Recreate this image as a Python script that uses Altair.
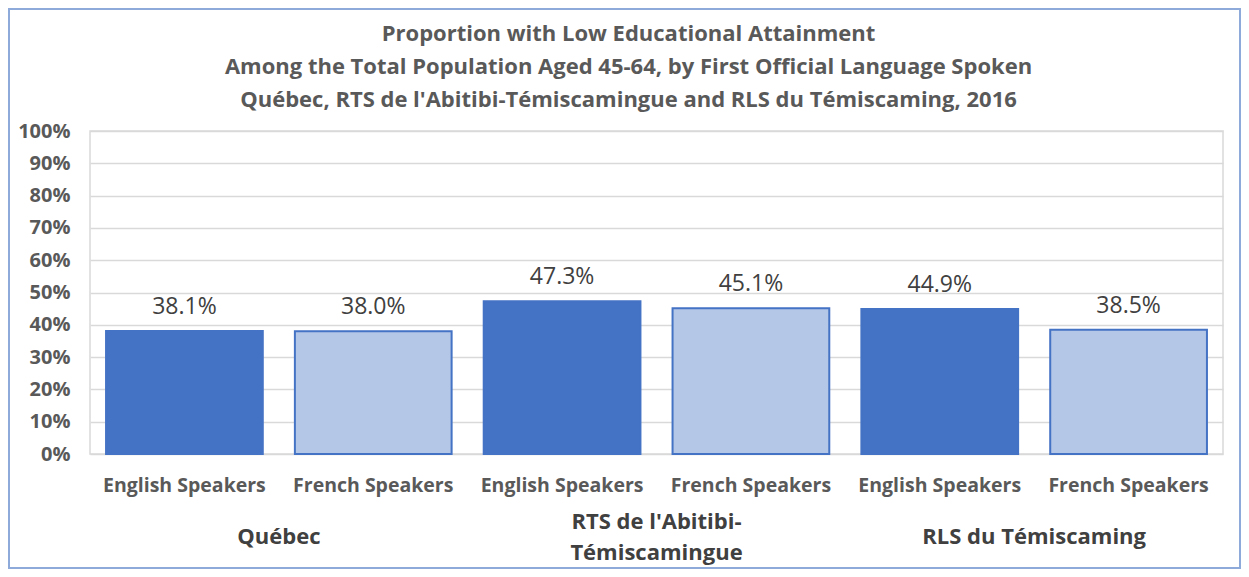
import altair as alt
import pandas as pd

# ---- data ----
regions = ["Québec", "Québec",
           "RTS de l'Abitibi-Témiscamingue", "RTS de l'Abitibi-Témiscamingue",
           "RLS du Témiscaming", "RLS du Témiscaming"]
languages = ["English Speakers", "French Speakers",
             "English Speakers", "French Speakers",
             "English Speakers", "French Speakers"]
values = [38.1, 38.0, 47.3, 45.1, 44.9, 38.5]

group_names = ["Québec", "RTS de l'Abitibi-Témiscamingue", "RLS du Témiscaming"]
group_labels = ["Québec", "RTS de l'Abitibi-\nTémiscamingue", "RLS du Témiscaming"]

title_text = ("Proportion  with Low Educational Attainment\n"
              "Among the Total Population Aged 45-64, by First Official Language Spoken\n"
              "Québec, RTS de l'Abitibi-Témiscamingue and RLS du Témiscaming, 2016")

lang_domain = ["English Speakers", "French Speakers"]
lang_colors = ["#4472c4", "#b4c7e7"]
y_ticks = [0, 0.1, 0.2, 0.3, 0.4, 0.5, 0.6, 0.7, 0.8, 0.9, 1.0]

# ---- tables ----
keys = [f"{r}|{l}" for r, l in zip(regions, languages)]
df = pd.DataFrame({"key": keys, "region": regions, "lang": languages, "v": values})
df["p"] = df["v"] / 100.0
df["lbl"] = [f"{v:.1f}%" for v in values]

first_keys = [keys[regions.index(g)] for g in group_names]
dfg = pd.DataFrame({"key": first_keys, "name": group_labels})
dfg["lines"] = [len(s.split("\n")) for s in group_labels]

W, H = 1133, 323
FONT = "Open Sans"
GRAY = "#595959"
P_IN, P_OUT = 0.17, 0.085

xenc = alt.X(
    "key:N", sort=keys,
    scale=alt.Scale(paddingInner=P_IN, paddingOuter=P_OUT),
    axis=alt.Axis(title=None, labelExpr="split(datum.label, '|')[1]", labelAngle=0,
                  labelFont=FONT, labelFontSize=19.5, labelFontWeight="bold",
                  labelColor=GRAY, labelPadding=22, ticks=False, domain=False),
)
yenc = alt.Y(
    "p:Q", scale=alt.Scale(domain=[0, 1]),
    axis=alt.Axis(title=None, format=".0%", values=y_ticks, labelOverlap=False,
                  labelFont=FONT, labelFontSize=20, labelFontWeight="bold",
                  labelColor=GRAY, labelPadding=20, ticks=False, domain=False,
                  gridColor="#d9d9d9", gridWidth=1.5),
)

base = alt.Chart(df)

bars = base.mark_bar(stroke="#4472c4", strokeWidth=2).encode(
    x=xenc, y=yenc,
    color=alt.Color("lang:N", scale=alt.Scale(domain=lang_domain, range=lang_colors), legend=None),
)

vlabels = base.mark_text(dy=-12, baseline="bottom", font=FONT, fontSize=23, color="#404040").encode(
    x=xenc, y=yenc, text="lbl:N"
)

# group label sits midway between the two bars of its group:
# end of the first band plus half of the inner gap
step = W / (len(keys) - P_IN + 2 * P_OUT)
gap_half = P_IN * step / 2
gx = alt.X("key:N", sort=keys, bandPosition=1,
           scale=alt.Scale(paddingInner=P_IN, paddingOuter=P_OUT))
gstyle = dict(font=FONT, fontSize=22, fontWeight="bold", color="#404040",
              lineBreak="\n", lineHeight=31, baseline="middle", align="center",
              dx=gap_half)

glabels1 = alt.Chart(dfg).transform_filter("datum.lines == 1").mark_text(**gstyle).encode(
    x=gx, y=alt.value(406), text="name:N"
)
glabels2 = alt.Chart(dfg).transform_filter("datum.lines == 2").mark_text(**gstyle).encode(
    x=gx, y=alt.value(391), text="name:N"
)

title = alt.Chart(pd.DataFrame({"t": [title_text]})).mark_text(
    font=FONT, fontSize=22, fontWeight="bold", color=GRAY,
    lineBreak="\n", lineHeight=33, baseline="middle", align="center",
).encode(x=alt.value(W / 2 - 28), y=alt.value(-97), text="t:N")

frame = alt.Chart(pd.DataFrame({"f": [0]})).mark_rect(
    fill="transparent", stroke="#8eaadb", strokeWidth=2
).encode(
    x=alt.value(-81), x2=alt.value(W + 17), y=alt.value(-122), y2=alt.value(437)
)

chart = alt.layer(frame, bars, vlabels, glabels1, glabels2, title).properties(
    width=W, height=H,
    autosize="none",
    padding={"left": 82, "top": 123, "right": 18, "bottom": 115},
).configure_view(stroke="#d9d9d9", strokeWidth=1.5)

chart.save("out.html", embed_options={"renderer": "svg", "actions": False})
